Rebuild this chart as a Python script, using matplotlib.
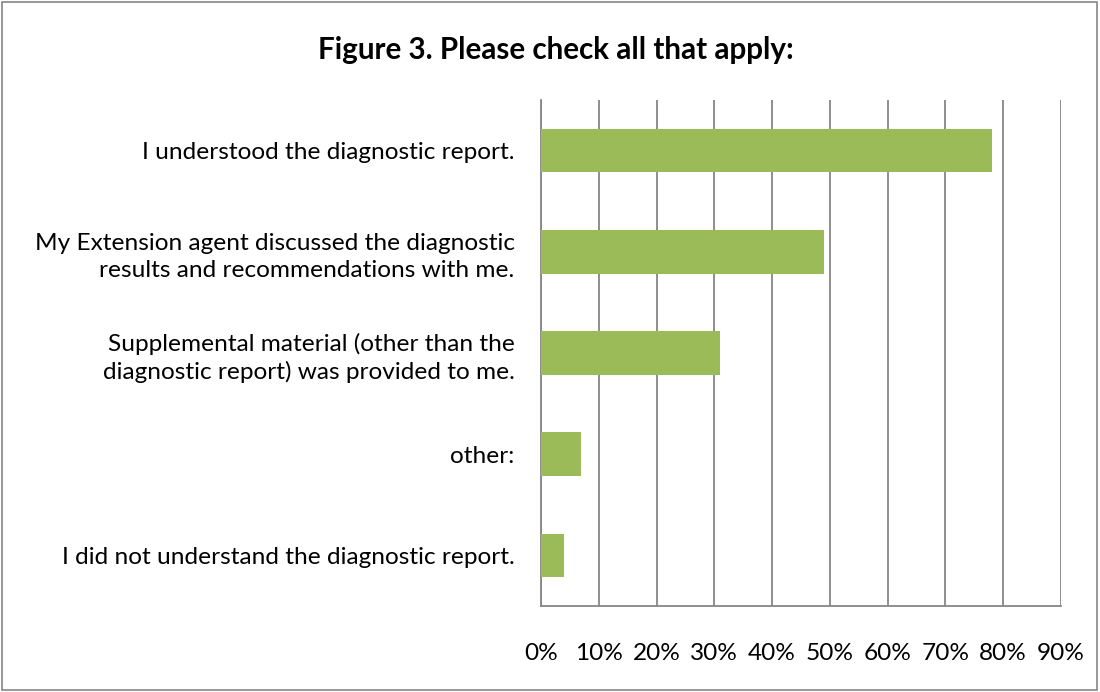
import matplotlib
matplotlib.use("Agg")
import matplotlib.pyplot as plt
from matplotlib.patches import Rectangle
from matplotlib.ticker import MultipleLocator, FuncFormatter

# Survey responses (share of respondents)
categories = [
    "I understood the diagnostic report.",
    "My Extension agent discussed the diagnostic\nresults and recommendations with me.",
    "Supplemental material (other than the\ndiagnostic report) was provided to me.",
    "other:",
    "I did not understand the diagnostic report.",
]
shares = [0.78, 0.49, 0.31, 0.07, 0.04]

plt.rcParams["font.family"] = ["Lato", "DejaVu Sans"]

fig = plt.figure(figsize=(11, 6.92), dpi=100)
ax = fig.add_axes([541 / 1100, 1 - 606 / 692, (1061 - 541) / 1100, (606 - 100) / 692])

ypos = list(range(len(categories)))[::-1]
ax.barh(ypos, shares, height=0.43, color="#9BBB59", zorder=3)

ax.set_xlim(0, 0.9)
ax.set_ylim(-0.5, len(categories) - 0.5)
ax.xaxis.set_major_locator(MultipleLocator(0.1))
ax.xaxis.set_major_formatter(FuncFormatter(lambda v, _: f"{v * 100:.0f}%"))
ax.grid(axis="x", color="#868686", linewidth=1.3, zorder=0)

ax.set_yticks(ypos)
ax.set_yticklabels(categories, ha="right", multialignment="right", linespacing=1.35)
ax.tick_params(axis="y", length=0, pad=19, labelsize=17.6)
ax.tick_params(axis="x", length=0, pad=27, labelsize=17.6)

for side in ["top", "right"]:
    ax.spines[side].set_visible(False)
for side in ["left", "bottom"]:
    ax.spines[side].set_color("#868686")
    ax.spines[side].set_linewidth(1.3)

fig.text(556 / 1100, 1 - 50 / 692, "Figure 3. Please check all that apply:",
         ha="center", va="center", fontsize=21.3, fontweight="bold")

fig.patches.append(Rectangle((0.002, 0.003), 0.995, 0.994, transform=fig.transFigure,
                             fill=False, edgecolor="#868686", linewidth=1.2))

fig.savefig("out.png", dpi=100)
